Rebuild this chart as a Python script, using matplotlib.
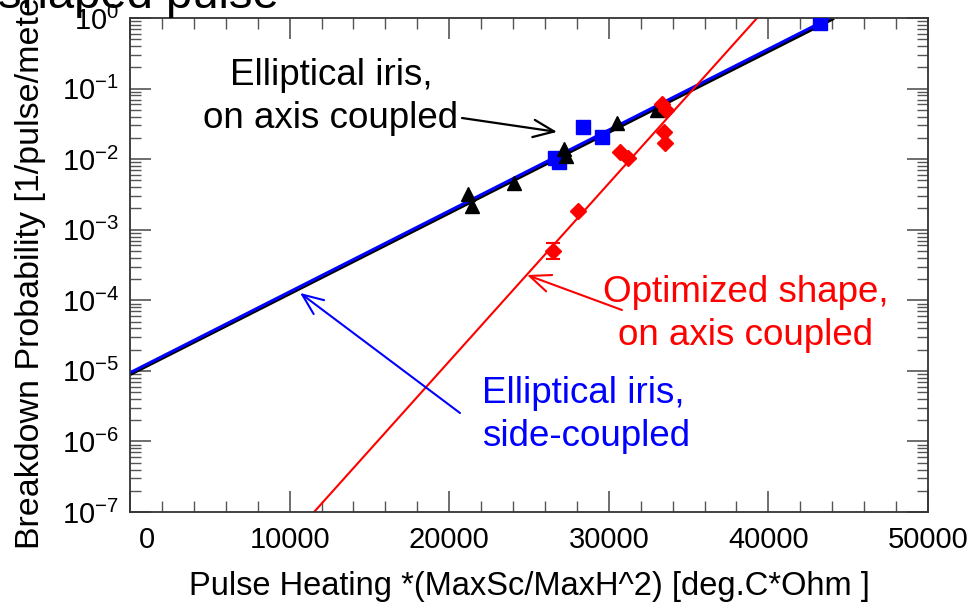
import numpy as np
import matplotlib
matplotlib.use('Agg')
import matplotlib.pyplot as plt
from matplotlib.ticker import MultipleLocator, LogLocator, NullFormatter
from matplotlib.transforms import ScaledTranslation

plt.rcParams['font.family'] = ['Liberation Sans', 'DejaVu Sans']
plt.rcParams['mathtext.default'] = 'regular'

# Elliptical iris, on axis coupled (black triangles)
onaxis_x = [21180, 21430, 24060, 27190, 27320, 30510, 33020]
onaxis_y = [3.2e-3, 2.2e-3, 4.6e-3, 1.39e-2, 1.11e-2, 3.25e-2, 4.97e-2]

# Elliptical iris, side-coupled (blue squares)
side_x = [26630, 26880, 28390, 29580, 43240]
side_y = [1.04e-2, 9.1e-3, 2.85e-2, 2.06e-2, 0.85]

# Optimized shape, on axis coupled (red diamonds)
opt_x = [26500, 28070, 30700, 31210, 33340, 33590, 33460, 33520]
opt_y = [5.0e-4, 1.84e-3, 1.26e-2, 1.04e-2, 6.0e-2, 5.0e-2, 2.43e-2, 1.69e-2]
opt_err_lo = [1.15e-4, 0, 0, 0, 0, 0, 0, 0]
opt_err_hi = [1.5e-4, 0, 0, 0, 0, 0, 0, 0]

# exponential fits (end points)
fit_onaxis_x = [0, 44100]
fit_onaxis_y = [9.0e-6, 1.0]
fit_side_x = [0, 43850]
fit_side_y = [9.4e-6, 1.0]
fit_opt_x = [11530, 39290]
fit_opt_y = [1e-7, 1.0]

xticks = [0, 10000, 20000, 30000, 40000, 50000]

fig = plt.figure(figsize=(9.69, 6.06), dpi=100)
ax = fig.add_axes([0.1342, 0.1551, 0.8235, 0.8152])

ax.plot(fit_onaxis_x, fit_onaxis_y, color='black', lw=2.8, solid_capstyle='butt')
ax.plot(fit_side_x, fit_side_y, color='#0000ff', lw=2.2, solid_capstyle='butt')
ax.plot(fit_opt_x, fit_opt_y, color='#ff0000', lw=1.5)

ax.plot(side_x, side_y, 's', color='#0000ff', ms=10, mec='#0000ff', zorder=3)
ax.plot(onaxis_x, onaxis_y, '^', color='black', ms=10, zorder=4)
ax.errorbar(opt_x, opt_y, yerr=[opt_err_lo, opt_err_hi], fmt='D', color='#ff0000',
            ms=8, elinewidth=1.5, capsize=5, capthick=1.5, zorder=5)

ax.set_xlim(0, 50000)
ax.set_yscale('log')
ax.set_ylim(1e-7, 1)
ax.set_xticks(xticks)
ax.xaxis.set_minor_locator(MultipleLocator(2000))
ax.yaxis.set_major_locator(LogLocator(base=10, numticks=12))
ax.yaxis.set_minor_locator(LogLocator(base=10, subs=np.arange(2, 10), numticks=12))
ax.yaxis.set_minor_formatter(NullFormatter())

ax.tick_params(which='both', direction='in', top=True, right=True, color='#555555')
ax.tick_params(which='major', length=15, width=1.2, labelsize=21)
ax.tick_params(axis='x', which='major', pad=10)
ax.tick_params(axis='y', which='major', pad=8)
ax.tick_params(which='minor', length=8, width=1.0)
for s in ax.spines.values():
    s.set_linewidth(1.3)
    s.set_color('#333333')

# the "0" label sits a bit right of its tick
t0 = ax.xaxis.get_major_ticks()[0]
t0.label1.set_transform(t0.label1.get_transform() + ScaledTranslation(17 / 100, 0, fig.dpi_scale_trans))

ax.set_xlabel('Pulse Heating *(MaxSc/MaxH^2) [deg.C*Ohm ]', fontsize=23.5, labelpad=12)
fig.text(31 / 969, 1 - 549 / 606, 'Breakdown Probability [1/pulse/meter]', fontsize=24.5,
         rotation=90, ha='center', va='bottom')
fig.text(279 / 969, 1 - 8 / 606, 'shaped pulse', fontsize=34, ha='right', va='baseline')

# annotations
ax.text(331 / 969, 1 - 97 / 606, 'Elliptical iris,\non axis coupled', transform=fig.transFigure,
        fontsize=26.5, ha='center', va='center', linespacing=1.3, color='black')
ax.text(746 / 969, 1 - 314 / 606, 'Optimized shape,\non axis coupled', transform=fig.transFigure,
        fontsize=26.5, ha='center', va='center', linespacing=1.3, color='#ff0000')
ax.text(482 / 969, 1 - 415 / 606, 'Elliptical iris,\nside-coupled', transform=fig.transFigure,
        fontsize=26.5, ha='left', va='center', linespacing=1.3, color='#0000ff')

arrow = dict(arrowstyle='->,head_length=0.6,head_width=0.25', shrinkA=0, shrinkB=0,
             mutation_scale=25)
ax.annotate('', xy=(26755, 0.0243), xytext=(462, 606 - 118), textcoords='figure pixels',
            arrowprops=dict(arrow, color='black', lw=1.6))
ax.annotate('', xy=(24876, 2.28e-4), xytext=(622, 606 - 310), textcoords='figure pixels',
            arrowprops=dict(arrow, color='#ff0000', lw=1.5))
ax.annotate('', xy=(10652, 1.27e-4), xytext=(460, 606 - 413), textcoords='figure pixels',
            arrowprops=dict(arrow, color='#0000ff', lw=1.5))

fig.savefig('out.png', dpi=100)
